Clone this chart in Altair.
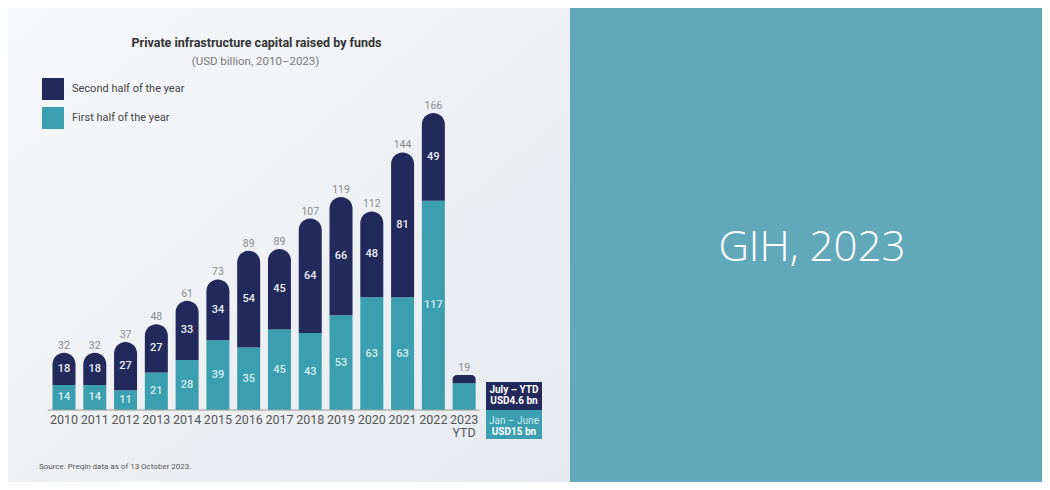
import altair as alt
import pandas as pd

# ---------------- data ----------------
years = ["2010", "2011", "2012", "2013", "2014", "2015", "2016", "2017",
         "2018", "2019", "2020", "2021", "2022", "2023\nYTD"]
first_half = [14, 14, 11, 21, 28, 39, 35, 45, 43, 53, 63, 63, 117, 15]
second_half = [18, 18, 27, 27, 33, 34, 54, 45, 64, 66, 48, 81, 49, 4.6]
totals = [32, 32, 37, 48, 61, 73, 89, 89, 107, 119, 112, 144, 166, 19]
series_names = ["Second half of the year", "First half of the year"]

title_text = "Private infrastructure capital raised by funds"
subtitle_text = "(USD billion, 2010\u20132023)"
source_text = "Source: Preqin data as of 13 October 2023."
box_second = "July \u2013 YTD\nUSD4.6 bn"
box_first_a = "Jan \u2013 June"
box_first_b = "USD15 bn"
panel_text = "GIH, 2023"

NAVY = "#222a5c"
TEAL = "#3c9fb0"
PANEL = "#62a8bb"
FONT = "Roboto"

# ---------------- tables ----------------
n = len(years)
df = pd.DataFrame({
    "idx": list(range(n)),
    "year": years,
    "first": first_half,
    "second": second_half,
    "total": totals,
})
df["top"] = df["first"] + df["second"]
df["mid_first"] = df["first"] / 2
df["mid_second"] = df["first"] + df["second"] / 2

long_rows = []
for i in range(n):
    long_rows.append({"idx": i, "series": series_names[1], "y0": 0, "y1": first_half[i]})
    long_rows.append({"idx": i, "series": series_names[0], "y0": first_half[i],
                      "y1": first_half[i] + second_half[i]})
long_df = pd.DataFrame(long_rows)

axis_df = pd.DataFrame({"x0": [-0.53], "x1": [n - 0.5], "y": [0]})

W, H = 1034, 474
LW = 562

xs = alt.Scale(domain=[-1.657, 31.612], nice=False, zero=False)
ys = alt.Scale(domain=[-40.24, 224.7], nice=False, zero=False)
X = alt.X("idx:Q", scale=xs, axis=None)

color = alt.Color(
    "series:N",
    scale=alt.Scale(domain=series_names, range=[NAVY, TEAL]),
    legend=alt.Legend(
        title=None, orient="none", legendX=34, legendY=70, direction="vertical",
        symbolType="square", symbolSize=484, symbolStrokeWidth=0, symbolOpacity=1,
        labelFont=FONT, labelFontSize=11, labelColor="#444444",
        rowPadding=7, labelOffset=8, padding=0,
    ),
)

one = pd.DataFrame({"a": [0]})

bg = alt.Chart(one).mark_rect(
    color=alt.LinearGradient(
        gradient="linear",
        stops=[alt.GradientStop(offset=0, color="#f7f8fa"),
               alt.GradientStop(offset=1, color="#e6eaee")],
        x1=0, x2=1, y1=0, y2=1,
    )
).encode(x=alt.value(0), x2=alt.value(LW), y=alt.value(0), y2=alt.value(H))

panel = alt.Chart(one).mark_rect(color=PANEL).encode(
    x=alt.value(LW), x2=alt.value(W), y=alt.value(0), y2=alt.value(H))

bars_first = alt.Chart(long_df).transform_filter(
    alt.datum.series == series_names[1]
).mark_bar(size=23).encode(
    x=X, y=alt.Y("y1:Q", scale=ys, axis=None), y2="y0:Q", color=color
)

bars_second = alt.Chart(long_df).transform_filter(
    alt.datum.series == series_names[0]
).mark_bar(size=23, cornerRadiusTopLeft=11.5, cornerRadiusTopRight=11.5).encode(
    x=X, y=alt.Y("y1:Q", scale=ys, axis=None), y2="y0:Q", color=color
)

base_rule = alt.Chart(axis_df).mark_rule(color="#9a9a9a", strokeWidth=1).encode(
    x=alt.X("x0:Q", scale=xs, axis=None), x2="x1:Q",
    y=alt.Y("y:Q", scale=ys, axis=None),
)

total_labels = alt.Chart(df).mark_text(
    font=FONT, fontSize=10.5, color="#8a8a8a", baseline="middle", dy=-7
).encode(x=X, y=alt.Y("top:Q", scale=ys, axis=None), text="total:Q")

inner = df[df["idx"] < n - 1]
second_labels = alt.Chart(inner).mark_text(
    font=FONT, fontSize=11, fontWeight=500, color="#eceef5", baseline="middle"
).encode(x=X, y=alt.Y("mid_second:Q", scale=ys, axis=None), text="second:Q")

first_labels = alt.Chart(inner).mark_text(
    font=FONT, fontSize=11, fontWeight=500, color="#d3eef3", baseline="middle"
).encode(x=X, y=alt.Y("mid_first:Q", scale=ys, axis=None), text="first:Q")

year_labels = alt.Chart(df).mark_text(
    font=FONT, fontSize=12.5, color="#555555", baseline="top", lineBreak="\n",
    lineHeight=13,
).encode(x=X, y=alt.value(406), text="year:N")


def txt(s, x, y, **kw):
    return alt.Chart(pd.DataFrame({"t": [s]})).mark_text(**kw).encode(
        text="t:N", x=alt.value(x), y=alt.value(y))


title = txt(title_text, 248.5, 35, font=FONT, fontSize=12.5, fontWeight="bold",
            color="#333333", baseline="middle", align="center")
subtitle = txt(subtitle_text, 247.5, 54, font=FONT, fontSize=11.5, color="#7a7a7a",
               baseline="middle", align="center")
source = txt(source_text, 31, 458.5, font=FONT, fontSize=8, color="#555555",
             baseline="middle", align="left")

box_dark = alt.Chart(one).mark_rect(color=NAVY).encode(
    x=alt.value(478), x2=alt.value(534), y=alt.value(374), y2=alt.value(402))
box_teal = alt.Chart(one).mark_rect(color=TEAL).encode(
    x=alt.value(478), x2=alt.value(534), y=alt.value(402), y2=alt.value(431))
box_dark_t = txt(box_second, 506, 377, font=FONT, fontSize=10, fontWeight="bold",
                 color="#ffffff", baseline="top", align="center", lineBreak="\n",
                 lineHeight=11)
box_teal_a = txt(box_first_a, 506, 413, font=FONT, fontSize=10,
                 color="#cdeef4", baseline="middle", align="center")
box_teal_b = txt(box_first_b, 506, 424, font=FONT, fontSize=10, fontWeight="bold",
                 color="#ffffff", baseline="middle", align="center")

panel_label = txt(panel_text, LW + 242, 240, font="Open Sans", fontSize=42,
                  fontWeight=300, color="#ffffff", baseline="middle", align="center")

chart = alt.layer(
    bg, panel, bars_first, bars_second, base_rule, total_labels, second_labels,
    first_labels, year_labels, title, subtitle, source,
    box_dark, box_teal, box_dark_t, box_teal_a, box_teal_b, panel_label,
).properties(
    width=W, height=H, padding=0, autosize="none", background="#ffffff"
).configure_view(strokeWidth=0)

chart.save("out.html", embed_options={"renderer": "svg", "actions": False})
